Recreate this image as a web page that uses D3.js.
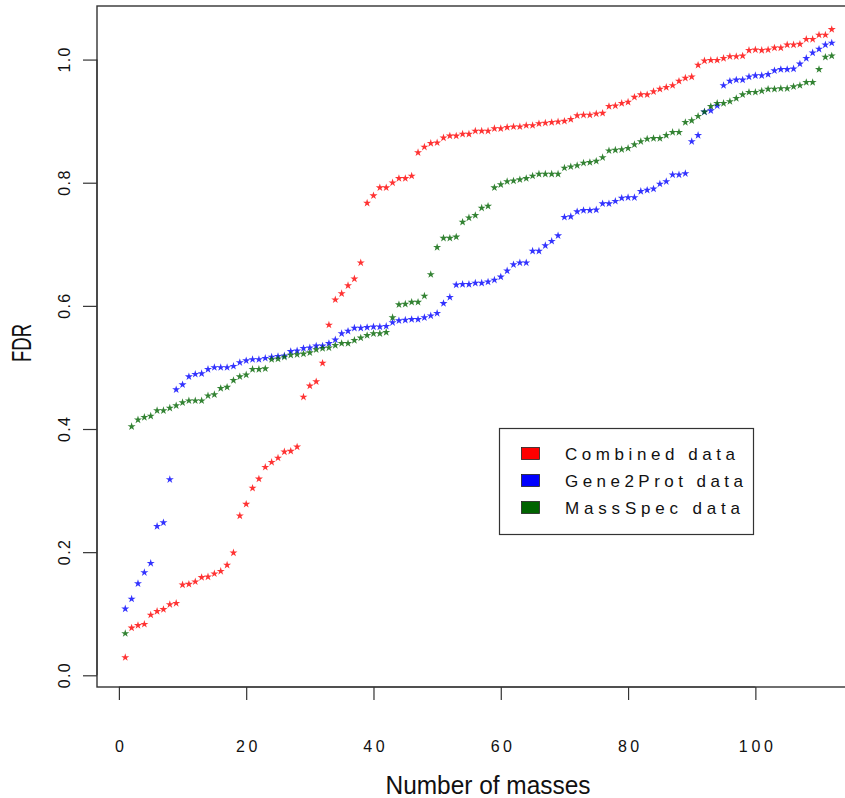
<!DOCTYPE html>
<html>
<head>
<meta charset="utf-8">
<script src="https://cdn.jsdelivr.net/npm/d3@7"></script>
<style>
  html, body { margin: 0; padding: 0; background: #fff; }
  svg { display: block; }
  text { font-family: "Liberation Sans", Arial, Helvetica, sans-serif; fill: #111; }
</style>
</head>
<body>
<svg id="chart" width="845" height="798"></svg>
<script>
// ---------------- data ----------------
const seriesNames = ["Combined data", "Gene2Prot data", "MassSpec data"];
const seriesColors = ["#ff0000", "#0000ff", "#006400"];

const combined = [
  0.029, 0.077, 0.081, 0.083, 0.098, 0.104, 0.107, 0.115, 0.117, 0.147,
  0.148, 0.152, 0.159, 0.160, 0.165, 0.169, 0.179, 0.199, 0.259, 0.278,
  0.304, 0.319, 0.338, 0.346, 0.353, 0.363, 0.364, 0.371, 0.452, 0.470,
  0.477, 0.507, 0.569, 0.610, 0.620, 0.633, 0.644, 0.670, 0.767, 0.779,
  0.792, 0.792, 0.800, 0.807, 0.807, 0.811, 0.849, 0.858, 0.864, 0.865,
  0.873, 0.876, 0.876, 0.879, 0.879, 0.884, 0.884, 0.884, 0.888, 0.888,
  0.890, 0.891, 0.891, 0.893, 0.893, 0.896, 0.897, 0.898, 0.899, 0.900,
  0.903, 0.909, 0.910, 0.910, 0.912, 0.913, 0.924, 0.925, 0.929, 0.931,
  0.939, 0.943, 0.943, 0.948, 0.952, 0.955, 0.958, 0.965, 0.970, 0.972,
  0.991, 0.998, 0.999, 0.999, 1.002, 1.005, 1.005, 1.006, 1.015, 1.016,
  1.015, 1.016, 1.019, 1.019, 1.024, 1.024, 1.025, 1.033, 1.033, 1.040,
  1.040, 1.049
];

const gene2prot = [
  0.108, 0.124, 0.149, 0.167, 0.182, 0.242, 0.248, 0.318, 0.464, 0.472,
  0.485, 0.489, 0.490, 0.497, 0.500, 0.500, 0.500, 0.502, 0.508, 0.511,
  0.513, 0.513, 0.515, 0.517, 0.518, 0.519, 0.526, 0.527, 0.531, 0.532,
  0.535, 0.535, 0.539, 0.545, 0.555, 0.559, 0.564, 0.564, 0.565, 0.566,
  0.566, 0.567, 0.573, 0.576, 0.577, 0.578, 0.578, 0.581, 0.584, 0.588,
  0.604, 0.614, 0.634, 0.635, 0.635, 0.637, 0.637, 0.639, 0.642, 0.647,
  0.657, 0.667, 0.670, 0.670, 0.689, 0.689, 0.698, 0.705, 0.714, 0.744,
  0.745, 0.753, 0.755, 0.755, 0.756, 0.766, 0.766, 0.770, 0.775, 0.776,
  0.776, 0.786, 0.788, 0.790, 0.798, 0.802, 0.813, 0.813, 0.815, 0.867,
  0.877, 0.915, 0.917, 0.925, 0.958, 0.965, 0.967, 0.967, 0.972, 0.974,
  0.974, 0.976, 0.982, 0.984, 0.984, 0.985, 0.993, 1.002, 1.011, 1.017,
  1.024, 1.027
];

const massspec = [
  0.068, 0.404, 0.415, 0.419, 0.421, 0.430, 0.430, 0.434, 0.438, 0.443,
  0.446, 0.446, 0.446, 0.454, 0.456, 0.466, 0.468, 0.479, 0.485, 0.488,
  0.497, 0.497, 0.498, 0.513, 0.514, 0.517, 0.520, 0.521, 0.522, 0.524,
  0.529, 0.531, 0.532, 0.536, 0.539, 0.539, 0.544, 0.548, 0.552, 0.555,
  0.555, 0.557, 0.581, 0.602, 0.603, 0.606, 0.606, 0.616, 0.651, 0.695,
  0.710, 0.710, 0.712, 0.736, 0.743, 0.747, 0.759, 0.762, 0.792, 0.797,
  0.802, 0.803, 0.805, 0.807, 0.811, 0.814, 0.814, 0.814, 0.814, 0.824,
  0.826, 0.828, 0.832, 0.833, 0.835, 0.841, 0.852, 0.853, 0.854, 0.856,
  0.862, 0.867, 0.871, 0.872, 0.872, 0.877, 0.882, 0.882, 0.898, 0.901,
  0.908, 0.915, 0.924, 0.929, 0.929, 0.932, 0.937, 0.943, 0.947, 0.947,
  0.949, 0.952, 0.952, 0.953, 0.953, 0.956, 0.958, 0.963, 0.963, 0.984,
  1.004, 1.006
];

const xTicks = [0, 20, 40, 60, 80, 100];
const yTicks = [0.0, 0.2, 0.4, 0.6, 0.8, 1.0];
const xTitle = "Number of masses";
const yTitle = "FDR";

// ---------------- layout ----------------
const svg = d3.select("#chart");
const plotL = 97, plotT = 6, plotR = 860, plotB = 687;

const x = d3.scaleLinear().domain([-3.44, 116.44]).range([plotL, plotR]);
const y = d3.scaleLinear().domain([-0.019, 1.087]).range([plotB, plotT]);

const axisColor = "#333";

// box
svg.append("rect")
  .attr("x", plotL).attr("y", plotT)
  .attr("width", plotR - plotL).attr("height", plotB - plotT)
  .attr("fill", "none").attr("stroke", axisColor).attr("stroke-width", 1.4);

// x axis
const xAxis = d3.axisBottom(x).tickValues(xTicks).tickSize(13).tickFormat(d3.format("d"));
const gx = svg.append("g").attr("transform", `translate(0,${plotB})`).call(xAxis);
gx.select(".domain").attr("d", `M${x(0)},0H${x(100)}`).attr("stroke", axisColor).attr("stroke-width", 1.2);
gx.selectAll(".tick line").attr("stroke", axisColor).attr("stroke-width", 1.2);
gx.selectAll(".tick text")
  .attr("y", 0).attr("dy", 0)
  .attr("transform", "translate(0,65)")
  .style("font-size", "16px")
  .style("font-family", "'Liberation Sans', Arial, sans-serif")
  .attr("fill", "#222")
  .attr("textLength", d => { const n = String(d).length; return n * 8.4 + (n - 1) * 4.5; })
  .attr("lengthAdjust", "spacing");

// y axis
const yAxis = d3.axisLeft(y).tickValues(yTicks).tickSize(14).tickFormat(d3.format(".1f"));
const gy = svg.append("g").attr("transform", `translate(${plotL},0)`).call(yAxis);
gy.select(".domain").attr("d", `M0,${y(0)}V${y(1)}`).attr("stroke", axisColor).attr("stroke-width", 1.2);
gy.selectAll(".tick line").attr("stroke", axisColor).attr("stroke-width", 1.2);
gy.selectAll(".tick text")
  .attr("x", 0).attr("dy", 0)
  .attr("text-anchor", "middle")
  .attr("transform", "translate(-26,0) rotate(-90) translate(0,-1)")
  .style("font-size", "16px")
  .style("font-family", "'Liberation Sans', Arial, sans-serif")
  .attr("fill", "#222")
  .attr("textLength", 25)
  .attr("lengthAdjust", "spacing");

// axis titles
svg.append("text")
  .attr("x", 488).attr("y", 794)
  .attr("text-anchor", "middle")
  .style("font-size", "25px")
  .attr("textLength", 205).attr("lengthAdjust", "spacingAndGlyphs")
  .text(xTitle);

svg.append("text")
  .attr("transform", `translate(31,343) rotate(-90)`)
  .attr("text-anchor", "middle")
  .style("font-size", "28px")
  .attr("textLength", 38).attr("lengthAdjust", "spacingAndGlyphs")
  .text(yTitle);

// points
const allSeries = [combined, gene2prot, massspec];
const star = d3.symbol().type(d3.symbolStar).size(20);
allSeries.forEach((vals, si) => {
  svg.append("g").attr("class", "series-" + si)
    .selectAll("path")
    .data(vals)
    .join("path")
    .attr("d", star)
    .attr("transform", (d, i) => `translate(${x(i + 1)},${y(d)})`)
    .attr("fill", seriesColors[si])
    .attr("fill-opacity", 0.8);
});

// legend
const lg = svg.append("g");
lg.append("rect")
  .attr("x", 499.5).attr("y", 428.5).attr("width", 254).attr("height", 106)
  .attr("fill", "#fff").attr("stroke", axisColor).attr("stroke-width", 1.2);
const legendLens = [170, 178, 175];
seriesNames.forEach((name, i) => {
  const cy = 454 + i * 27;
  lg.append("rect")
    .attr("x", 521.5).attr("y", cy - 6.5).attr("width", 18).attr("height", 12)
    .attr("fill", seriesColors[i]).attr("stroke", "#222").attr("stroke-width", 0.8);
  lg.append("text")
    .attr("x", 565).attr("y", cy + 6)
    .style("font-size", "17px")
    .attr("fill", "#222")
    .attr("textLength", legendLens[i]).attr("lengthAdjust", "spacing")
    .text(name);
});
</script>
</body>
</html>
